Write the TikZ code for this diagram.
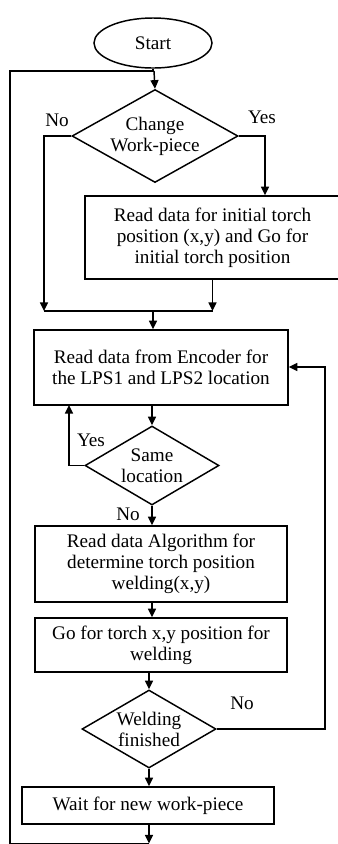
\documentclass[tikz,border=0pt]{standalone}
\usepackage{fontspec}
\setmainfont{Liberation Serif}
\usetikzlibrary{arrows.meta, positioning, shapes.geometric}

\begin{document}
\begin{tikzpicture}[
    x=0.75pt, y=-0.75pt,
    >={Triangle[length=6.5pt, width=6pt]},
    every node/.style={font=\fontsize{14.4}{15.75}\selectfont},
    stepbox/.style={draw, line width=1.1pt, align=center, inner sep=0pt, minimum width=189pt},
    decision/.style={draw, diamond, line width=1.1pt, align=center, inner sep=-3pt, aspect=1.7},
    terminal/.style={draw, ellipse, line width=1.1pt, inner sep=0pt},
    line/.style={line width=1.1pt},
    arr/.style={->, line width=1.1pt},
    lbl/.style={inner sep=0pt},
]
\useasboundingbox (0,0) rectangle (337,844);

% Start and first decision
\node[terminal, minimum width=88.5pt, minimum height=37.5pt] (start) at (153,43) {Start};
\node[decision, minimum width=124.5pt, minimum height=69.75pt] (change) at (155,136) {Change\\Work-piece};

% Initial torch position
\node[stepbox, minimum width=191.25pt, minimum height=62.25pt] (init) at (212.5,237.5)
    {Read data for initial torch\\position (x,y) and Go for\\initial torch position};

% Encoder reading and check
\node[stepbox, minimum width=190.5pt, minimum height=56.25pt] (enc) at (161,367.5)
    {Read data from Encoder for\\the LPS1 and LPS2 location};
\node[decision, minimum width=100.5pt, minimum height=59.25pt] (same) at (152,465.5) {Same\\location};

% Welding steps
\node[stepbox, minimum height=57pt] (algo) at (161,564)
    {Read data Algorithm for\\determine torch position\\welding(x,y)};
\node[stepbox, minimum height=40.5pt] (go) at (161,645)
    {Go for torch x,y position for\\welding};
\node[decision, minimum width=100.5pt, minimum height=58.5pt] (weld) at (149,729) {Welding\\finished};
\node[stepbox, minimum height=27.75pt] (wait) at (148,805.5) {Wait for new work-piece};

% Branch labels
\node[lbl] (noA) at (57,120) {No};
\node[lbl] (yesA) at (262,117) {Yes};
\node[lbl] (yesB) at (91,440) {Yes};
\node[lbl] (noB) at (128,514) {No};
\node[lbl] (noC) at (242,703) {No};

% Helper points
\coordinate (top) at (154,71);
\coordinate (joinL) at (44,311);
\coordinate (join) at (153,311);
\coordinate (yescol) at (265,196);
\coordinate (yesup) at (69,405);
\coordinate (rcol) at (325,367);
\coordinate (bot) at (149,843.5);
\coordinate (edge) at (10,843.5);

% Arrows
\draw[line] (start) -- (start |- top);
\draw[arr] (top) -- (change.north);
\draw[arr] (change.west) -| (joinL);
\draw[arr] (change.east) -| (init.north -| yescol);
\draw[arr] (init.south) -- (init.south |- joinL);
\draw[line] (joinL) -- (init.south |- joinL);
\draw[arr] (join) -- (enc.north -| join);
\draw[arr] (same.north |- enc.south) -- (same.north);
\draw[arr] (same.west) -| (yesup);
\draw[arr] (same.south) -- (same.south |- algo.north);
\draw[arr] (same.south |- algo.south) -- (same.south |- go.north);
\draw[arr] (weld.north |- go.south) -- (weld.north);
\draw[arr] (weld.east) -| (rcol) -- (enc.east |- rcol);
\draw[arr] (weld.south) -- (weld.south |- wait.north);
\draw[arr] (bot |- wait.south) -- (bot);

% Return to new work-piece
\draw[line] (bot) -- (edge) |- (top);

\end{tikzpicture}
\end{document}
